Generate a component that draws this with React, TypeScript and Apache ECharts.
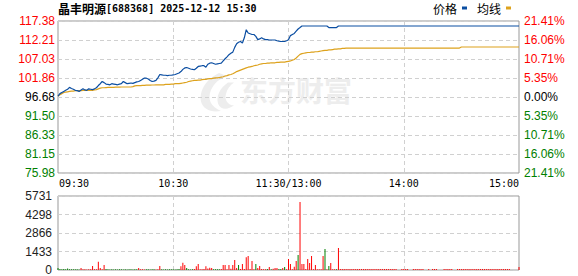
import React, { useEffect, useRef } from 'react';
import * as echarts from 'echarts';

const prevClose = 96.68;
const priceStep = 5.175;
const priceTicks = ['75.98', '81.15', '86.33', '91.50', '96.68', '101.86', '107.03', '112.21', '117.38'];
const pctTicks = ['21.41%', '16.06%', '10.71%', '5.35%', '0.00%', '5.35%', '10.71%', '16.06%', '21.41%'];
const volTicks = ['0', '1433', '2866', '4298', '5731'];
const volMax = 5731;
const timeTickIdx = [0, 60, 120, 180, 240];
const timeTickText = ['09:30', '10:30', '11:30/13:00', '14:00', '15:00'];

const price = [
  96.95, 97.6, 97.9, 98.2, 98.5, 98.8, 99.3, 99.0, 98.8, 98.5,
  98.4, 98.2, 98.6, 98.9, 98.6, 98.5, 98.9, 98.8, 98.7, 98.9,
  99.2, 99.8, 100.3, 100.9, 100.6, 100.2, 100.1, 100.0, 100.3, 100.2,
  100.1, 100.0, 100.2, 100.3, 100.9, 100.6, 100.3, 100.4, 100.5, 100.4,
  100.6, 100.8, 100.9, 101.2, 101.5, 101.86, 101.8, 101.6, 101.2, 100.9,
  101.0, 101.2, 101.9, 102.8, 102.7, 102.6, 102.6, 102.5, 102.6, 102.6,
  102.7, 102.8, 103.0, 103.2, 103.6, 104.2, 104.6, 104.7, 104.5, 104.3,
  104.2, 104.1, 104.5, 105.0, 105.1, 105.2, 105.2, 104.8, 105.6, 105.9,
  106.0, 105.8, 105.6, 105.7, 105.8, 105.9, 106.5, 107.1, 107.6, 108.2,
  108.6, 108.9, 110.2, 111.2, 111.6, 111.8, 111.4, 112.8, 115.0, 114.1,
  113.9, 113.7, 113.7, 113.2, 112.3, 112.5, 112.8, 112.5, 112.3, 112.3,
  112.2, 112.2, 112.2, 112.2, 112.0, 111.9, 111.8, 111.8, 111.8, 112.0,
  112.3, 113.4, 113.7, 114.0, 114.6, 115.2, 115.6, 116.02, 116.02, 116.02,
  116.02, 116.02, 116.02, 116.02, 116.02, 116.02, 116.02, 116.02, 116.02, 116.02,
  116.02, 115.6, 115.6, 115.6, 115.6, 115.6, 116.02, 116.02, 116.02, 116.02,
  116.02, 116.02, 116.02, 116.02, 116.02, 116.02, 116.02, 116.02, 116.02, 116.02,
  116.02, 116.02, 116.02, 116.02, 116.02, 116.02, 116.02, 116.02, 116.02, 116.02,
  116.02, 116.02, 116.02, 116.02, 116.02, 116.02, 116.02, 116.02, 116.02, 116.02,
  116.02, 116.02, 116.02, 116.02, 116.02, 116.02, 116.02, 116.02, 116.02, 116.02,
  116.02, 116.02, 116.02, 116.02, 116.02, 116.02, 116.02, 116.02, 116.02, 116.02,
  116.02, 116.02, 116.02, 116.02, 116.02, 116.02, 116.02, 116.02, 116.02, 116.02,
  116.02, 116.02, 116.02, 116.02, 116.02, 116.02, 116.02, 116.02, 116.02, 116.02,
  116.02, 116.02, 116.02, 116.02, 116.02, 116.02, 116.02, 116.02, 116.02, 116.02,
  116.02, 116.02, 116.02, 116.02, 116.02, 116.02, 116.02, 116.02, 116.02, 116.02,
  116.02,
];

const avgPrice = [
  96.95, 97.3, 97.6, 97.9, 98.0, 98.1, 98.2, 98.3, 98.3, 98.4,
  98.4, 98.4, 98.4, 98.5, 98.5, 98.5, 98.5, 98.5, 98.5, 98.6,
  98.7, 98.9, 99.1, 99.2, 99.2, 99.25, 99.3, 99.3, 99.3, 99.3,
  99.35, 99.35, 99.35, 99.4, 99.4, 99.4, 99.4, 99.4, 99.4, 99.5,
  99.7, 99.8, 99.8, 99.8, 99.85, 99.85, 99.9, 99.9, 99.9, 99.95,
  99.95, 100.0, 100.0, 100.0, 100.0, 100.0, 100.1, 100.1, 100.1, 100.2,
  100.2, 100.3, 100.3, 100.3, 100.4, 100.5, 100.6, 100.7, 100.9, 101.0,
  101.1, 101.2, 101.2, 101.3, 101.3, 101.4, 101.5, 101.5, 101.6, 101.7,
  101.7, 101.8, 101.9, 101.9, 102.0, 102.1, 102.2, 102.4, 102.5, 102.7,
  102.8, 103.0, 103.3, 103.6, 103.8, 104.0, 104.2, 104.4, 104.6, 104.8,
  104.9, 105.0, 105.2, 105.3, 105.4, 105.6, 105.7, 105.8, 105.8, 105.9,
  105.9, 106.0, 106.0, 106.0, 106.1, 106.1, 106.2, 106.2, 106.2, 106.3,
  106.4, 106.5, 106.7, 106.9, 107.3, 107.8, 108.3, 108.5, 108.6, 108.7,
  108.8, 108.8, 108.9, 108.9, 109.0, 109.0, 109.1, 109.2, 109.3, 109.4,
  109.4, 109.5, 109.5, 109.6, 109.7, 109.7, 109.8, 109.8, 109.9, 109.9,
  110.0, 110.0, 110.0, 110.0, 110.0, 110.0, 110.0, 110.0, 110.0, 110.0,
  110.0, 110.0, 110.0, 110.0, 110.0, 110.0, 110.0, 110.0, 110.0, 110.0,
  110.0, 110.0, 110.0, 110.0, 110.0, 110.0, 110.0, 110.0, 110.0, 110.0,
  110.0, 110.0, 110.0, 110.0, 110.0, 110.0, 110.0, 110.0, 110.0, 110.0,
  110.0, 110.0, 110.0, 110.0, 110.0, 110.0, 110.0, 110.0, 110.0, 110.0,
  110.0, 110.0, 110.0, 110.0, 110.0, 110.0, 110.0, 110.0, 110.0, 110.0,
  110.3, 110.3, 110.3, 110.3, 110.3, 110.3, 110.3, 110.3, 110.3, 110.3,
  110.3, 110.3, 110.3, 110.3, 110.3, 110.3, 110.3, 110.3, 110.3, 110.3,
  110.3, 110.3, 110.3, 110.3, 110.3, 110.3, 110.3, 110.3, 110.3, 110.3,
  110.3,
];

const volume = [
  150, 80, 60, 70, 60, 120, 60, 50, 60, 50,
  60, 40, 150, 50, 60, 40, 50, 60, 310, 60,
  50, 645, 150, 60, 390, 80, 50, 40, 50, 40,
  50, 40, 60, 50, 40, 50, 40, 60, 50, 40,
  50, 60, 150, 60, 50, 40, 60, 50, 40, 60,
  50, 40, 60, 310, 50, 40, 60, 40, 50, 60,
  50, 40, 60, 80, 300, 570, 390, 150, 50, 40,
  60, 80, 300, 460, 60, 50, 80, 300, 120, 180,
  150, 60, 50, 60, 60, 80, 390, 390, 60, 390,
  100, 390, 775, 150, 390, 80, 460, 80, 980, 1085,
  80, 700, 60, 460, 150, 310, 80, 60, 50, 80,
  232, 60, 100, 150, 150, 80, 80, 150, 230, 60,
  850, 465, 60, 260, 700, 1160, 5260, 465, 465, 80,
  850, 540, 1083, 60, 387, 60, 60, 60, 1083, 1625,
  60, 310, 540, 60, 60, 60, 1700, 80, 80, 80,
  80, 80, 80, 80, 80, 80, 80, 80, 80, 80,
  80, 80, 80, 80, 80, 80, 80, 80, 80, 80,
  80, 80, 80, 80, 80, 80, 80, 0, 0, 80,
  80, 80, 80, 0, 0, 80, 80, 80, 80, 80,
  80, 0, 0, 80, 0, 80, 80, 80, 0, 0,
  0, 80, 80, 80, 80, 80, 0, 0, 80, 80,
  80, 80, 80, 80, 80, 80, 80, 80, 80, 80,
  80, 80, 80, 80, 80, 80, 80, 80, 80, 80,
  80, 80, 80, 80, 80, 80, 0, 0, 0, 0,
  230,
];

const downIdx = [
  0, 1, 2, 3, 4, 5, 6, 7, 8, 9, 10, 11,
  25, 26, 27, 28, 29, 30, 31, 32, 33, 34, 35, 36, 37, 38, 39, 40, 41,
  46, 47, 48, 49, 50, 54, 55, 56, 57, 58, 59, 60, 61, 62, 63,
  67, 68, 69, 70, 81, 82, 83, 84, 94, 103, 109, 111, 115, 116, 118, 125, 139, 141, 145,
];

const times = Array.from({ length: 241 }, (_, i) => {
  const m = i <= 120 ? 570 + i : 780 + (i - 120);
  return `${String(Math.floor(m / 60)).padStart(2, '0')}:${String(m % 60).padStart(2, '0')}`;
});

const LOGO_D =
  'M22 0 C10 6 2 18 4 30 C6 38 14 42 24 40 C14 36 10 28 14 18 C17 11 22 6 30 4 C27 2 25 1 22 0 Z M31 10 C23 16 19 24 21 32 C23 38 30 40 37 34 C31 34 27 28 29 22 C30 17 33 13 37 10 Z';
echarts.graphic.registerShape('dfcfLogo', echarts.graphic.extendPath(LOGO_D, {}));

const RED = '#ff0000';
const GREEN = '#008000';
const BLUE = '#0b4ea2';
const GOLD = '#dda21d';
const GRIDLINE = { color: '#d0d0d0', type: [4, 3] as number[], width: 1 };
const SANS = 'Liberation Sans';
const MONO = 'DejaVu Sans Mono';

function colorKey(idx: number) {
  return idx > 4 ? 'r' : idx < 4 ? 'g' : 'k';
}

const labelRich = {
  r: { color: RED, fontFamily: SANS, fontSize: 12 },
  g: { color: GREEN, fontFamily: SANS, fontSize: 12 },
  k: { color: '#000', fontFamily: SANS, fontSize: 12 },
};

const option: any = {
  animation: false,
  backgroundColor: '#fff',
  title: {
    text: '{a|晶丰明源}{b|[688368] 2025-12-12 15:30}',
    left: 58,
    top: 1,
    padding: 0,
    textStyle: {
      rich: {
        a: { fontFamily: 'Noto Sans CJK SC', fontSize: 12, color: '#000', lineHeight: 14 },
        b: { fontFamily: MONO, fontSize: 10, color: '#000', lineHeight: 14 },
      },
    },
  },
  legend: {
    data: ['价格', '均线'],
    right: 67,
    top: 1,
    padding: 0,
    align: 'right',
    icon: 'rect',
    itemWidth: 5,
    itemHeight: 3,
    itemGap: 10,
    textStyle: { fontFamily: 'Noto Sans CJK SC', fontSize: 12, color: '#000', lineHeight: 14 },
  },
  graphic: [
    {
      type: 'dfcfLogo',
      x: 197,
      y: 73,
      scaleX: 1,
      scaleY: 0.95,
      silent: true,
      z: -1,
      style: { fill: '#ededed' },
    },
    {
      type: 'text',
      left: 240,
      top: 76,
      silent: true,
      z: -1,
      style: {
        text: '东方财富',
        fill: '#ededed',
        fontSize: 28,
        fontWeight: 'bold',
        fontFamily: 'Noto Sans CJK SC',
      },
    },
  ],
  grid: [
    { left: 58, right: 59, top: 21, height: 152, show: true, borderColor: '#999', borderWidth: 1 },
    { left: 58, right: 59, top: 196, height: 74, show: true, borderColor: '#999', borderWidth: 1 },
  ],
  xAxis: [
    {
      type: 'category',
      gridIndex: 0,
      data: times,
      boundaryGap: false,
      axisLine: { show: false },
      axisTick: { show: false },
      axisLabel: {
        interval: (i: number) => timeTickIdx.includes(i),
        margin: 5,
        formatter: (_v: string, i: number) => {
          const k = timeTickIdx.indexOf(i);
          if (k < 0) return '';
          const t = timeTickText[k];
          if (k === 0) return `{l|${t}}`;
          if (k === timeTickIdx.length - 1) return `{r|${t}}`;
          return `{c|${t}}`;
        },
        rich: {
          l: { fontFamily: MONO, fontSize: 10, color: '#000', padding: [0, 0, 0, 32] },
          r: { fontFamily: MONO, fontSize: 10, color: '#000', padding: [0, 30, 0, 0] },
          c: { fontFamily: MONO, fontSize: 10, color: '#000' },
        },
      },
      splitLine: {
        show: true,
        interval: (i: number) => i === 60 || i === 120 || i === 180,
        lineStyle: GRIDLINE,
      },
    },
    {
      type: 'category',
      gridIndex: 1,
      data: times,
      boundaryGap: false,
      axisLine: { show: false },
      axisTick: { show: false },
      axisLabel: { show: false },
      splitLine: {
        show: true,
        interval: (i: number) => i === 60 || i === 120 || i === 180,
        lineStyle: GRIDLINE,
      },
    },
  ],
  yAxis: [
    {
      type: 'value',
      gridIndex: 0,
      position: 'left',
      min: -4,
      max: 4,
      interval: 1,
      axisLine: { show: false },
      axisTick: { show: false },
      splitLine: { show: true, lineStyle: GRIDLINE },
      axisLabel: {
        margin: 3,
        formatter: (v: number) => {
          const idx = Math.round(v) + 4;
          return `{${colorKey(idx)}|${priceTicks[idx]}}`;
        },
        rich: labelRich,
      },
    },
    {
      type: 'value',
      gridIndex: 0,
      position: 'right',
      min: -4,
      max: 4,
      interval: 1,
      axisLine: { show: false },
      axisTick: { show: false },
      splitLine: { show: false },
      axisLabel: {
        margin: 5,
        formatter: (v: number) => {
          const idx = Math.round(v) + 4;
          return `{${colorKey(idx)}|${pctTicks[idx]}}`;
        },
        rich: labelRich,
      },
    },
    {
      type: 'value',
      gridIndex: 1,
      min: 0,
      max: volMax,
      interval: volMax / 4,
      axisLine: { show: false },
      axisTick: { show: false },
      splitLine: { show: true, lineStyle: GRIDLINE },
      axisLabel: {
        margin: 6,
        color: '#222',
        fontFamily: SANS,
        fontSize: 12,
        formatter: (v: number) => volTicks[Math.round(v / (volMax / 4))],
      },
    },
  ],
  series: [
    {
      name: '价格',
      type: 'line',
      xAxisIndex: 0,
      yAxisIndex: 0,
      data: price.map((p) => (p - prevClose) / priceStep),
      showSymbol: false,
      symbol: 'none',
      lineStyle: { color: BLUE, width: 1.2 },
      itemStyle: { color: BLUE },
      z: 3,
    },
    {
      name: '均线',
      type: 'line',
      xAxisIndex: 0,
      yAxisIndex: 0,
      data: avgPrice.map((p) => (p - prevClose) / priceStep),
      showSymbol: false,
      symbol: 'none',
      lineStyle: { color: GOLD, width: 1.2 },
      itemStyle: { color: GOLD },
      z: 2,
    },
    {
      name: '成交量',
      type: 'bar',
      xAxisIndex: 1,
      yAxisIndex: 2,
      barWidth: 1,
      data: volume.map((v, i) => ({
        value: v,
        itemStyle: { color: downIdx.includes(i) ? GREEN : RED },
      })),
    },
  ],
};

export default function App() {
  const ref = useRef<HTMLDivElement>(null);
  useEffect(() => {
    if (!ref.current) return;
    const chart = echarts.init(ref.current, null, { renderer: 'svg' });
    chart.setOption(option);
    return () => chart.dispose();
  }, []);
  return (
    <div
      ref={ref}
      style={{ position: 'fixed', left: 0, top: 0, width: 578, height: 276, background: '#fff' }}
    />
  );
}
